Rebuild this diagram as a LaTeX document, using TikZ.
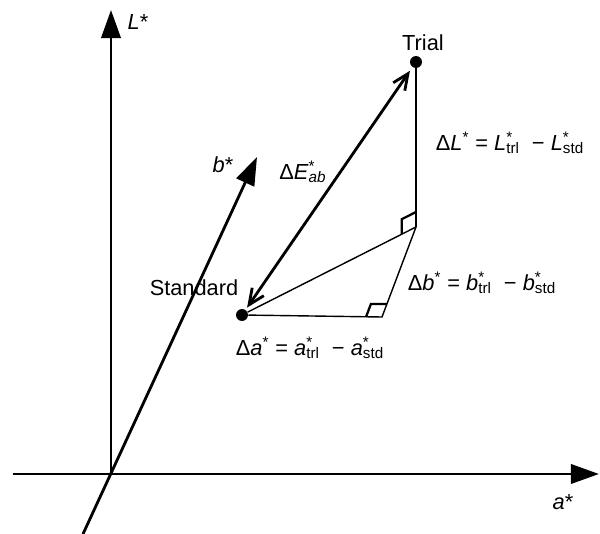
\documentclass[tikz,border=0pt]{standalone}
\usepackage{fontspec}
\setmainfont{Liberation Sans}
\usetikzlibrary{arrows.meta,calc}
\newcommand{\starsub}[1]{\rlap{\textsuperscript{*}}\textsubscript{#1}}

\begin{document}
\begin{tikzpicture}[
  x=0.02cm, y=-0.02cm,
  axis/.style={line width=1.6pt, -{Triangle[length=16pt,width=11pt]}},
  proj/.style={line width=0.8pt},
  diff/.style={line width=1.6pt},
  dot/.style={circle, fill, inner sep=0pt, minimum size=6.8pt},
  lbl/.style={font=\fontsize{12.4}{15}\selectfont, inner sep=1pt},
  rmark/.style={line width=1.3pt}
]
  \useasboundingbox (0,0) rectangle (600,534);

  \coordinate (o) at (111,474);
  \coordinate (lTop) at (111,10);
  \coordinate (aLeft) at (13,474);
  \coordinate (aRight) at (599,474);
  \coordinate (bLow) at (83,534);
  \coordinate (bTop) at (257,157);
  \coordinate (cA) at (382,317);
  \coordinate (cL) at (416,227);

  \node[dot] (std) at (242,315) {};
  \node[dot] (trl) at (416,62) {};

  \draw[axis] (o) -- (lTop);
  \draw[axis] (aLeft) -- (aRight);
  \draw[axis] (bLow) -- (bTop);

  \draw[proj] (std) -- (cA) -- (cL);
  \draw[proj] (std) -- (cL);
  \draw[diff] (cL) -- (trl);
  \draw[diff, {Straight Barb[length=9pt,width=8pt]}-{Straight Barb[length=9pt,width=8pt]},
    shorten <=1.5pt, shorten >=2.5pt] (std) -- (trl);

  \draw[rmark] ($(cL)+(0,-15)$) -- ($(cL)!0.32cm!(std)+(0,-15)$) -- ($(cL)!0.32cm!(std)$);
  \draw[rmark] ($(cA)+(-16,0)$) -- ($(cA)!0.28cm!(cL)+(-16,0)$) -- ($(cA)!0.28cm!(cL)$);

  \node[lbl] (lL) at (138,22) {\textit{L}*};
  \node[lbl] (lA) at (563,502) {\textit{a}*};
  \node[lbl] (lB) at (223,165) {\textit{b}*};
  \node[lbl] (lTrl) at (423,43) {Trial};
  \node[lbl] (lStd) at (194,288) {Standard};
  \node[lbl] (lE) at (303,172) {Δ\textit{E}\starsub{\textit{ab}}};
  \node[lbl] (dL) at (510,143) {Δ\textit{L}\textsuperscript{*} = \textit{L}\starsub{trl}\ \ − \textit{L}\starsub{std}};
  \node[lbl] (dB) at (482,283) {Δ\textit{b}\textsuperscript{*} = \textit{b}\starsub{trl}\ \ − \textit{b}\starsub{std}};
  \node[lbl] (dA) at (310,348) {Δ\textit{a}\textsuperscript{*} = \textit{a}\starsub{trl}\ \ − \textit{a}\starsub{std}};
\end{tikzpicture}
\end{document}
